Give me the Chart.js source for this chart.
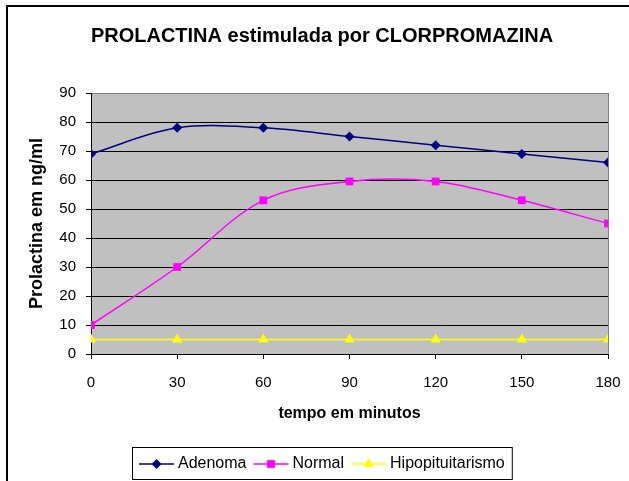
<!DOCTYPE html>
<html>
<head>
<meta charset="utf-8">
<script src="https://cdn.jsdelivr.net/npm/chart.js@4"></script>
<style>
  html, body { margin: 0; padding: 0; background: #fff; }
  #wrap { width: 629px; height: 481px; }
</style>
</head>
<body>
<div id="wrap"><canvas id="chart"></canvas></div>
<script>
// values
const minutes = [0, 30, 60, 90, 120, 150, 180]
const adenoma = [69, 78, 78, 75, 72, 69, 66]
const normal = [10, 30, 53, 59.5, 59.5, 53, 45]
const hipopituitarismo = [5, 5, 5, 5, 5, 5, 5]
const seriesNames = ["Adenoma", "Normal", "Hipopituitarismo"]
const chartTitle = "PROLACTINA estimulada por CLORPROMAZINA"

const FONT = "'Liberation Sans', Arial, sans-serif"

function toPoints(values) {
  return minutes.map((m, i) => ({x: m, y: values[i]}))
}

function marker(ctx, ds, x, y) {
  ctx.fillStyle = ds.pointBackgroundColor
  ctx.strokeStyle = ds.pointBackgroundColor
  Chart.helpers.drawPoint(ctx, {
    pointStyle: ds.pointStyle, radius: ds.pointRadius, rotation: 0, borderWidth: 0
  }, x, y)
}

// gray plot area, outer frame, title and boxed legend
const frame = {
  id: "frame",
  beforeDraw(chart) {
    const {ctx, chartArea: a} = chart
    ctx.save()
    ctx.fillStyle = "#fff"
    ctx.fillRect(0, 0, chart.width, chart.height)
    ctx.strokeStyle = "#000"
    ctx.lineWidth = 2
    ctx.strokeRect(7, 6, chart.width + 10, chart.height + 10)
    ctx.fillStyle = "#c0c0c0"
    ctx.fillRect(a.left, a.top, a.right - a.left, a.bottom - a.top)
    ctx.strokeStyle = "#808080"
    ctx.lineWidth = 1
    ctx.beginPath()
    ctx.moveTo(a.right + 0.5, a.top)
    ctx.lineTo(a.right + 0.5, a.bottom)
    ctx.stroke()

    ctx.fillStyle = "#000"
    ctx.font = "bold 20px " + FONT
    ctx.textAlign = "center"
    ctx.textBaseline = "middle"
    ctx.fillText(chartTitle, 322, 36)
    ctx.restore()
  },
  afterDraw(chart) {
    const ctx = chart.ctx
    ctx.save()
    ctx.font = "16px " + FONT
    const sets = chart.data.datasets
    const lineW = 35, gap = 4, after = 7
    let w = 7
    sets.forEach(ds => { w += lineW + gap + ctx.measureText(ds.label).width + after })
    const h = 32
    const left = Math.round(322 - w / 2), top = 447
    ctx.fillStyle = "#fff"
    ctx.fillRect(left, top, w, h)
    ctx.strokeStyle = "#000"
    ctx.lineWidth = 1
    ctx.strokeRect(left + 0.5, top + 0.5, w, h)
    const cy = top + h / 2 + 1
    let x = left + 7
    sets.forEach(ds => {
      ctx.strokeStyle = ds.borderColor
      ctx.lineWidth = 1.5
      ctx.beginPath()
      ctx.moveTo(x, cy)
      ctx.lineTo(x + lineW, cy)
      ctx.stroke()
      marker(ctx, ds, x + lineW / 2, cy)
      ctx.fillStyle = "#000"
      ctx.textBaseline = "middle"
      ctx.fillText(ds.label, x + lineW + gap, cy)
      x += lineW + gap + ctx.measureText(ds.label).width + after
    })
    ctx.restore()
  }
}

function series(label, values, color, style, radius) {
  return {
    label: label,
    data: toPoints(values),
    borderColor: color,
    backgroundColor: color,
    pointBackgroundColor: color,
    pointBorderColor: color,
    pointBorderWidth: 0,
    pointStyle: style,
    pointRadius: radius,
    borderWidth: 1.5,
    tension: 0.35
  }
}

new Chart(document.getElementById("chart"), {
  type: "line",
  data: {
    datasets: [
      series(seriesNames[0], adenoma, "#000080", "rectRot", 5),
      series(seriesNames[1], normal, "#ff00ff", "rect", 5.5),
      series(seriesNames[2], hipopituitarismo, "#ffff00", "triangle", 6)
    ]
  },
  options: {
    responsive: true,
    maintainAspectRatio: false,
    animation: false,
    layout: {padding: {left: 0, right: 21, top: 93, bottom: 0}},
    plugins: {
      legend: {display: false},
      tooltip: {enabled: false},
      title: {display: false}
    },
    scales: {
      x: {
        type: "linear",
        min: 0,
        max: 180,
        afterFit(scale) {
          scale.height = 127
          scale.paddingLeft = 0
          scale.paddingRight = 0
        },
        ticks: {stepSize: 30, color: "#000", font: {family: FONT, size: 15}, padding: 15, maxRotation: 0},
        grid: {drawOnChartArea: false, drawTicks: true, tickLength: 5, color: "#000"},
        border: {color: "#000"},
        title: {
          display: true,
          text: "tempo em minutos",
          color: "#000",
          font: {family: FONT, size: 16, weight: "bold"},
          padding: {top: 0, bottom: 58}
        }
      },
      y: {
        min: 0,
        max: 90,
        afterFit(scale) { scale.width = 91 },
        ticks: {stepSize: 10, color: "#000", font: {family: FONT, size: 15}, padding: 10},
        grid: {
          color: ctx => ctx.tick && ctx.tick.value === 90 ? "#808080" : "#000",
          tickColor: "#000",
          tickLength: 5
        },
        border: {color: "#000"},
        title: {
          display: true,
          text: "Prolactina em ng/ml",
          color: "#000",
          font: {family: FONT, size: 18, weight: "bold"},
          padding: {top: 26, bottom: 0}
        }
      }
    }
  },
  plugins: [frame]
})
</script>
</body>
</html>
